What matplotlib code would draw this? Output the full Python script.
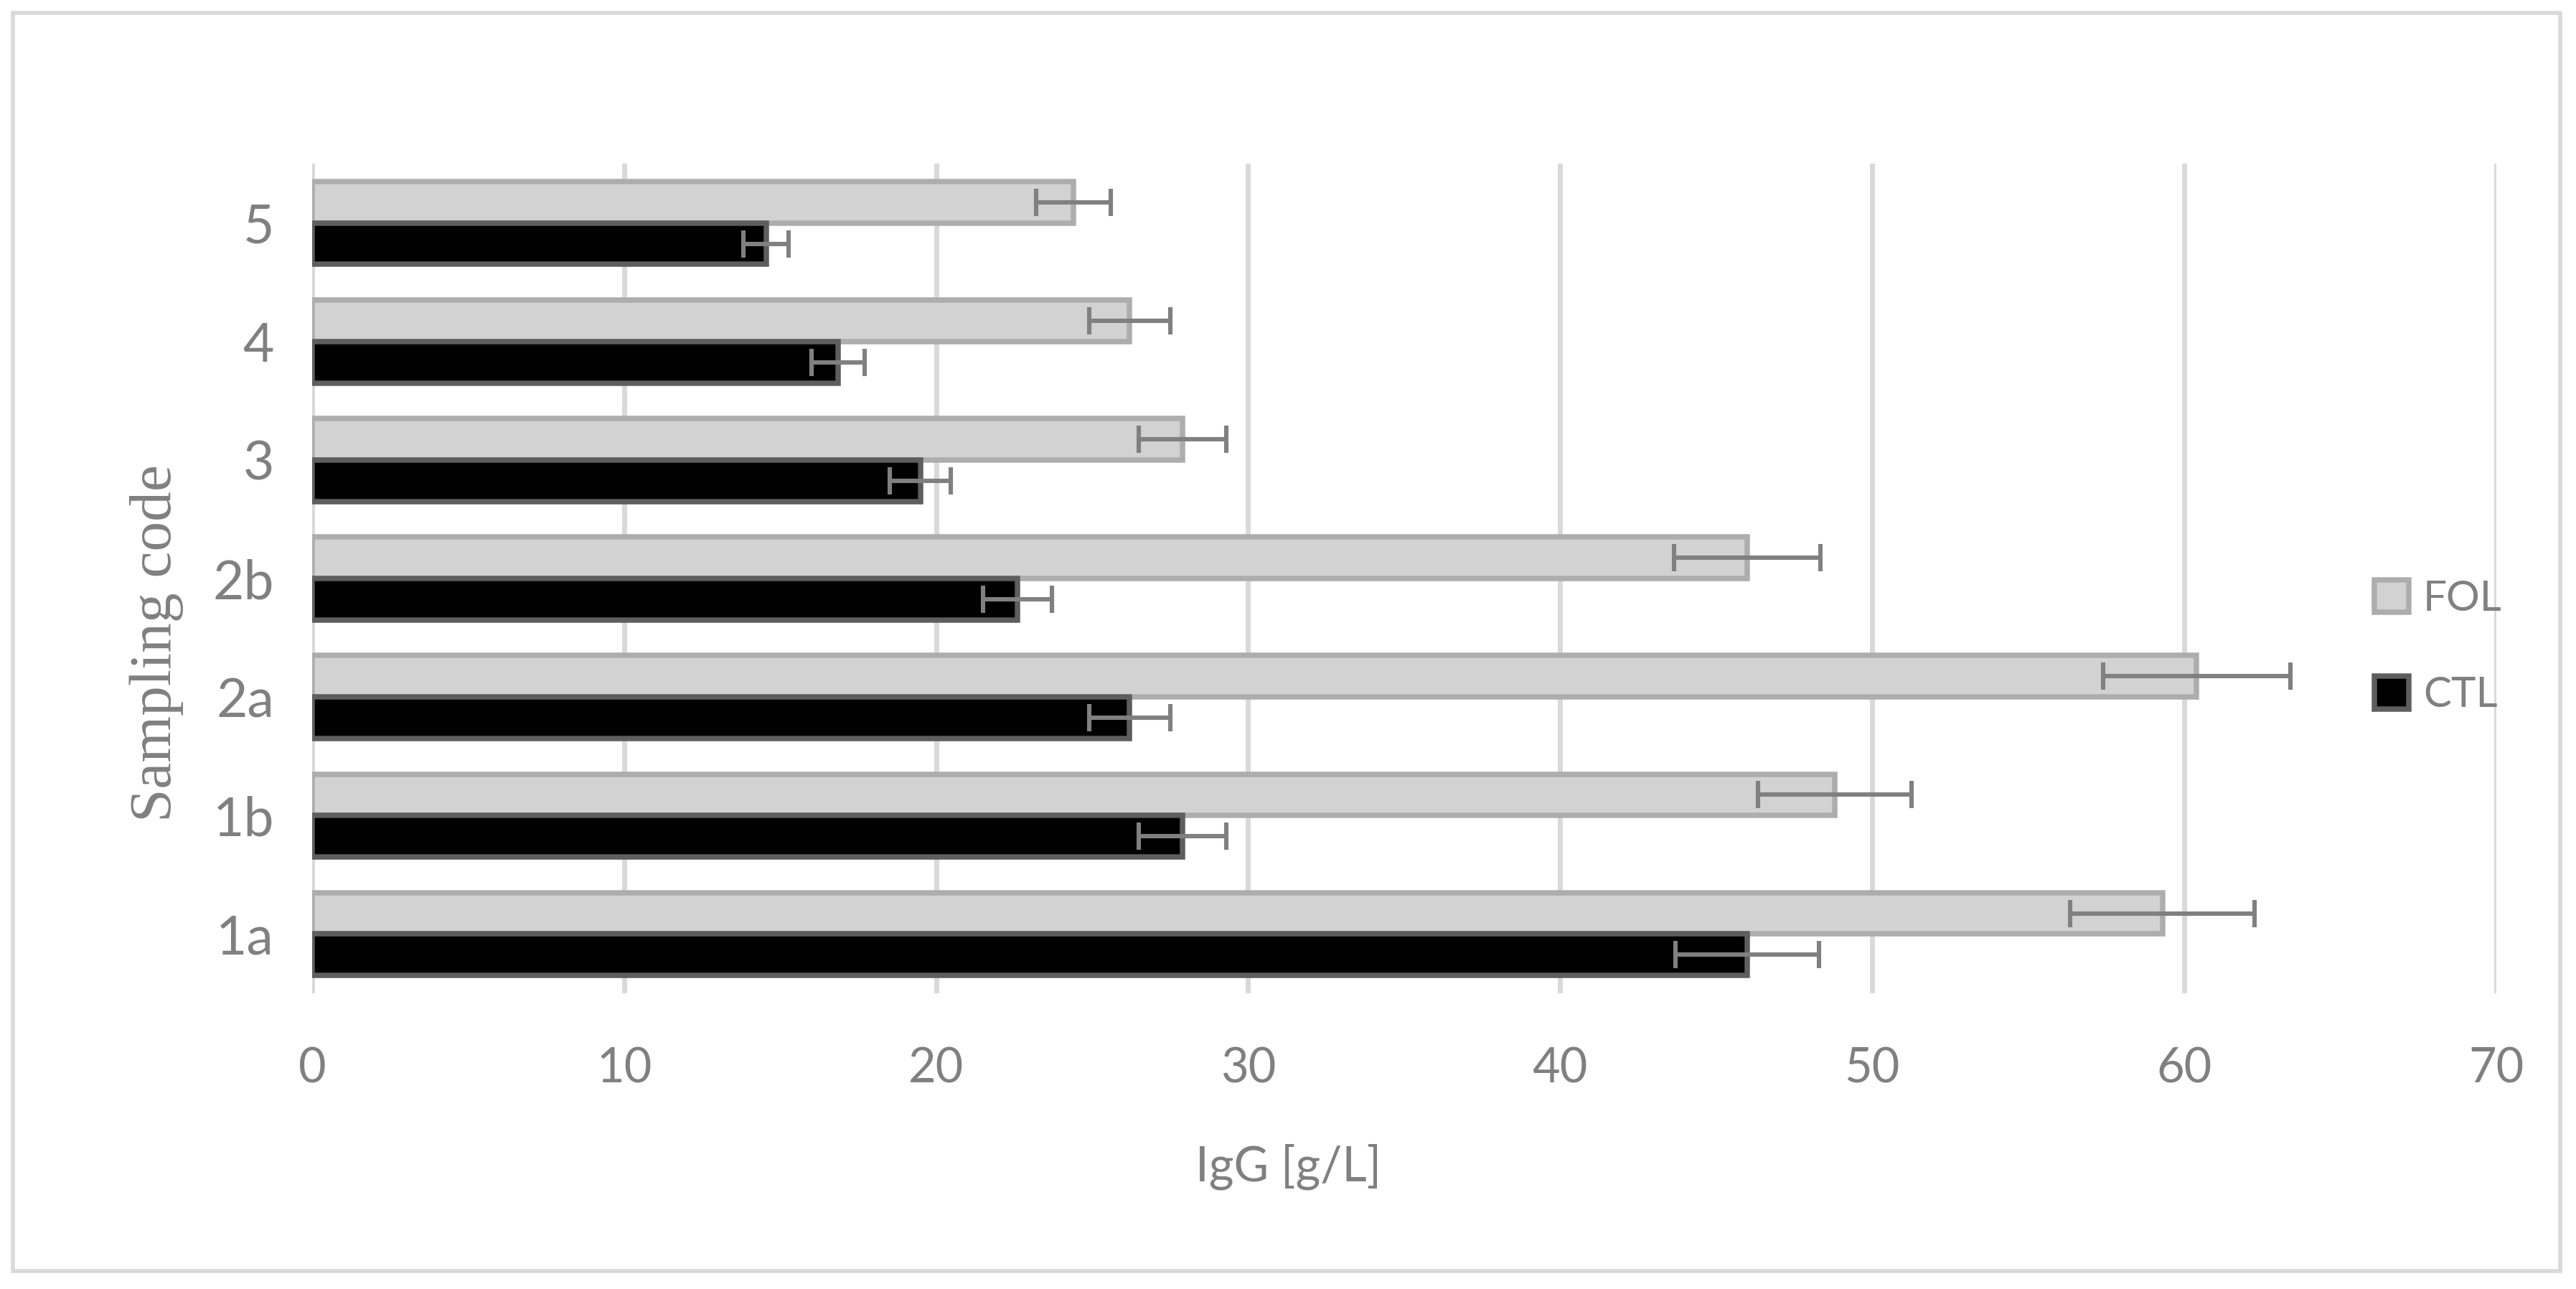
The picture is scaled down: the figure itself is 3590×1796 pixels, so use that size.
import numpy as np
import matplotlib.pyplot as plt
from matplotlib.patches import Rectangle

# data
codes = ['1a', '1b', '2a', '2b', '3', '4', '5']
fol = [59.3, 48.8, 60.4, 46.0, 27.9, 26.2, 24.4]
fol_err = [2.95, 2.45, 3.0, 2.35, 1.4, 1.3, 1.2]
ctl = [46.0, 27.9, 26.2, 22.6, 19.5, 16.85, 14.55]
ctl_err = [2.3, 1.4, 1.3, 1.1, 0.98, 0.85, 0.73]

txt = '#808080'
grid_c = '#d9d9d9'
plt.rcParams['font.family'] = ['Lato', 'DejaVu Sans']

fig = plt.figure(figsize=(17.955, 8.98), dpi=200)
ax = fig.add_axes([0.1211, 0.2294, 0.8477, 0.6436])

y = np.arange(len(codes))
h = 0.35
err_kw = dict(ecolor=txt, elinewidth=2.2, capsize=6.8, capthick=2.2)

ax.barh(y + h / 2, fol, height=h, color='#d2d2d2', edgecolor='#adadad',
        linewidth=2.7, xerr=fol_err, error_kw=err_kw, label='FOL', zorder=2)
ax.barh(y - h / 2, ctl, height=h, color='black', edgecolor='#5e5e5e',
        linewidth=2.7, xerr=ctl_err, error_kw=err_kw, label='CTL', zorder=2)

ax.set_xlim(0, 70)
ax.set_ylim(-0.5, len(codes) - 0.5)
ax.set_xticks(range(0, 71, 10))
ax.set_yticks(y)
ax.set_yticklabels(codes)
ax.tick_params(axis='x', length=0, pad=27, labelsize=24, labelcolor=txt)
ax.tick_params(axis='y', length=0, pad=19, labelsize=27, labelcolor=txt)
ax.grid(axis='x', color=grid_c, linewidth=2.5, zorder=0)
ax.set_axisbelow(True)
for s in ax.spines.values():
    s.set_visible(False)

fig.text(0.5, 0.0947, 'IgG [g/L]', ha='center', va='center', fontsize=24, color=txt)
fig.text(0.0607, 0.501, 'Sampling code', ha='center', va='center', rotation=90,
         fontsize=30, color=txt, family=['Liberation Serif', 'DejaVu Serif'])

leg = fig.legend(loc='center left', bbox_to_anchor=(0.9215, 0.498), frameon=False,
                 fontsize=21, labelcolor=txt, handlelength=0.82, handleheight=0.82,
                 handletextpad=0.34, labelspacing=1.4, borderaxespad=0,
                 borderpad=0)

# outer chart border
fig.patches.append(Rectangle((18 / 3591, 25 / 1796), 3550 / 3591, 1753 / 1796,
                             transform=fig.transFigure, fill=False,
                             edgecolor=grid_c, linewidth=2.0))

fig.savefig('out.png', dpi=200, facecolor='white')
